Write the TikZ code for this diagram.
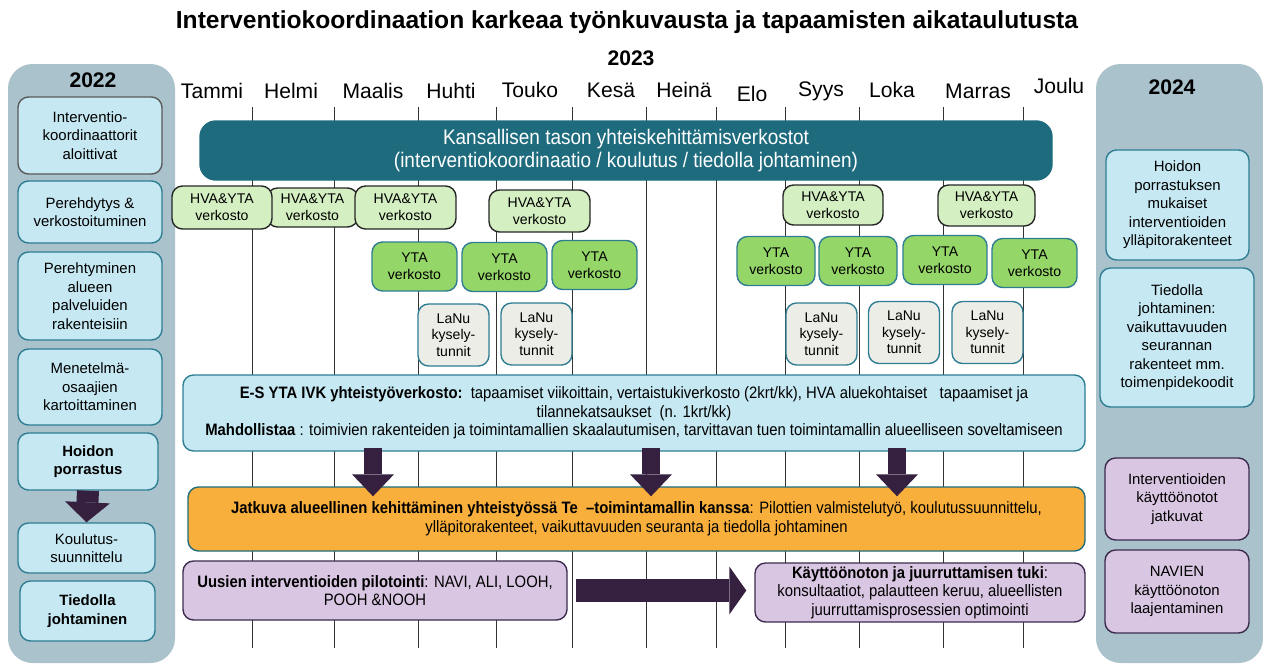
\documentclass[tikz,border=0pt]{standalone}
\usepackage{fontspec}
\setmainfont{Liberation Sans}
\newfontfamily\narrowfont{Liberation Sans}[FakeStretch=0.9]
\usepackage{tikz}
\usetikzlibrary{
  arrows.meta,%
  positioning%
}
\definecolor{panelgray}{HTML}{A9C2CC}
\definecolor{lightblue}{HTML}{C5E8F2}
\definecolor{boxteal}{HTML}{2E7D92}
\definecolor{darkteal}{HTML}{1E6B7E}
\definecolor{hvagreen}{HTML}{D4EFC2}
\definecolor{ytagreen}{HTML}{95D668}
\definecolor{lanugray}{HTML}{EDEDE8}
\definecolor{devorange}{HTML}{F9AF3B}
\definecolor{pilpurple}{HTML}{D9C6E2}
\definecolor{pilborder}{HTML}{3D2B4F}
\definecolor{arrowpurple}{HTML}{35203F}
\tikzset{>=latex}
\tikzset{
  sz/.style 2 args={minimum width=#1*0.02cm, minimum height=#2*0.02cm},
  panel/.style={fill=panelgray, draw=none, rounded corners=14pt},
  monthline/.style={draw=black!80, line width=0.5pt},
  month/.style={font=\fontsize{12}{14}\selectfont},
  year/.style={font=\bfseries\fontsize{12}{14}\selectfont},
  basebox/.style={rounded corners=6pt, line width=0.8pt, align=center,
    inner sep=0pt},
  sidebox/.style={basebox, draw=boxteal, fill=lightblue,
    font=\fontsize{8.5}{10.5}\selectfont},
  hvabox/.style={basebox, draw=black!85, fill=hvagreen,
    font=\fontsize{8}{9.5}\selectfont},
  ytabox/.style={basebox, draw=boxteal, fill=ytagreen,
    font=\fontsize{8}{9.5}\selectfont},
  lanubox/.style={basebox, draw=boxteal, fill=lanugray,
    font=\fontsize{8}{9.5}\selectfont},
  widebox/.style={basebox, font=\narrowfont\fontsize{9.4}{10.6}\selectfont},
  pilbox/.style={widebox, draw=pilborder, fill=pilpurple},
  fatarrow/.style={draw=arrowpurple, line width=0.36cm,
    -{Triangle[width=0.84cm, length=0.44cm, line width=0pt]}},
}
\begin{document}
\begin{tikzpicture}[x=0.02cm, y=-0.02cm]
  \useasboundingbox (0,0) rectangle (1263,666);%
  % year panels
  \fill[panel] (8,64) rectangle (175,663);%
  \fill[panel] (1096,64) rectangle (1263,663);%
  \node[font=\bfseries\fontsize{14}{16}\selectfont] (title) at (627,22)
    {Interventiokoordinaation karkeaa työnkuvausta ja tapaamisten aikataulutusta};%
  \node[year] (y2023) at (631,58) {2023};%
  \node[year] (y2022) at (93,80) {2022};%
  \node[year] (y2024) at (1172,87) {2024};%
  % months
  \foreach \m/\x/\y in {Tammi/212/91, Helmi/291/91, Maalis/373/91,
      Huhti/451/91, Touko/530/90, Kesä/611/90, Heinä/684/90, Elo/752/94,
      Syys/821/91, Loka/892/90, Marras/978/91, Joulu/1059/86}
    \node[month] (m-\m) at (\x,\y) {\m};%
  \foreach \x in {252,334,418,496,572,646,716,785,859,943,1023}
    \draw[monthline] (\x,107) -- (\x,648);%
  % 2022
  \node[sidebox, draw=black!65, sz={144}{77}] (ic) at (90,135.5)
    {Interventio-\\koordinaattorit\\aloittivat};%
  \node[sidebox, sz={144}{62}] (per) at (90,212) {Perehdytys \&\\verkostoituminen};%
  \node[sidebox, sz={144}{88}] (perh) at (90,296)
    {Perehtyminen\\alueen\\palveluiden\\rakenteisiin};%
  \node[sidebox, sz={144}{76}] (men) at (90,387) {Menetelmä-\\osaajien\\kartoittaminen};%
  \node[sidebox, sz={140}{57}, font=\bfseries\fontsize{8.5}{10.5}\selectfont] (hp)
    at (88,461.5) {Hoidon\\porrastus};%
  \node[sidebox, sz={137}{50}] (kou) at (86.5,548) {Koulutus-\\suunnittelu};%
  \node[sidebox, sz={135}{60}, font=\bfseries\fontsize{8.5}{10.5}\selectfont] (tj)
    at (87.5,611) {Tiedolla\\johtaminen};%
  \draw[arrowpurple, line width=0.44cm,
    -{Triangle[width=0.9cm, length=0.4cm, line width=0pt]}] (hp.south) -- (kou.north);%
  % 2024
  \node[sidebox, sz={143}{110}] (r1) at (1177.5,205)
    {Hoidon\\porrastuksen\\mukaiset\\interventioiden\\ylläpitorakenteet};%
  \node[sidebox, sz={154}{139}] (r2) at (1177,337.5)
    {Tiedolla\\johtaminen:\\vaikuttavuuden\\seurannan\\rakenteet mm.\\toimenpidekoodit};%
  \node[sidebox, draw=pilborder, fill=pilpurple, sz={144}{82}] (r3) at (1177,499)
    {Interventioiden\\käyttöönotot\\jatkuvat};%
  \node[sidebox, draw=pilborder, fill=pilpurple, sz={144}{83}] (r4) at (1177,591.5)
    {NAVIEN\\käyttöönoton\\laajentaminen};%
  % 2023
  \node[basebox, draw=darkteal, fill=darkteal, text=white, rounded corners=9pt,
    sz={852}{59}, font=\narrowfont\fontsize{12}{13}\selectfont] (nat) at (626,150.5)
    {Kansallisen tason yhteiskehittämisverkostot\\(interventiokoordinaatio / koulutus / tiedolla johtaminen)};%
  \node[hvabox, sz={91}{39}] (h2) at (312.5,207.5) {HVA\&YTA\\verkosto};%
  \node[hvabox, sz={100}{43}] (h1) at (222,207.5) {HVA\&YTA\\verkosto};%
  \node[hvabox, sz={101}{43}] (h3) at (405.5,207.5) {HVA\&YTA\\verkosto};%
  \node[hvabox, sz={101}{42}] (h4) at (539.5,211) {HVA\&YTA\\verkosto};%
  \node[hvabox, sz={100}{40}] (h5) at (833,205) {HVA\&YTA\\verkosto};%
  \node[hvabox, sz={97}{41}] (h6) at (986.5,205.5) {HVA\&YTA\\verkosto};%
  \foreach \n/\x/\y/\w in {1/414.5/266.5/85, 2/504.5/267/85, 3/594.5/265/85,
      4/776/261/78, 5/858/261/78, 6/945/260/84, 7/1034.5/263/85}
    \node[ytabox, sz={\w}{49}] (y\n) at (\x,\y) {YTA\\verkosto};%
  \foreach \n/\x/\y in {1/453.5/335, 2/536.5/334, 3/821.5/334, 4/904/332.5, 5/987.5/332.5}
    \node[lanubox, sz={71}{62}] (l\n) at (\x,\y) {LaNu\\kysely-\\tunnit};%
  \node[widebox, draw=boxteal, fill=lightblue, sz={902}{76}] (ivk) at (634,413)
    {\textbf{E-S YTA IVK yhteistyöverkosto:}\ \ tapaamiset viikoittain, vertaistukiverkosto (2krt/kk), HVA aluekohtaiset\ \ \ tapaamiset ja\\
     tilannekatsaukset\ \ (n. 1krt/kk)\\
     \textbf{Mahdollistaa} : toimivien rakenteiden ja toimintamallien skaalautumisen, tarvittavan tuen toimintamallin alueelliseen soveltamiseen};%
  \node[widebox, draw=darkteal, fill=devorange, sz={897}{64}] (dev) at (636.5,519)
    {\textbf{Jatkuva alueellinen kehittäminen yhteistyössä Te\ \ –toimintamallin kanssa}: Pilottien valmistelutyö, koulutussuunnittelu,\\
     ylläpitorakenteet, vaikuttavuuden seuranta ja tiedolla johtaminen};%
  \node[pilbox, sz={384}{59}] (pil) at (375,590.5)
    {\textbf{Uusien interventioiden pilotointi}: NAVI, ALI, LOOH,\\POOH \&NOOH};%
  \node[pilbox, sz={330}{59}] (kay) at (920,592.5)
    {\textbf{Käyttöönoton ja juurruttamisen tuki}:\\konsultaatiot, palautteen keruu, alueellisten\\juurruttamisprosessien optimointi};%
  % arrows
  \coordinate (c1) at (373,0);%
  \coordinate (c2) at (651,0);%
  \coordinate (c3) at (897,0);%
  \foreach \c in {c1,c2,c3}
    \draw[fatarrow, shorten <=-0.08cm, shorten >=-0.2cm] (ivk.south -| \c) -- (dev.north -| \c);%
  \draw[arrowpurple, line width=0.46cm,
    -{Triangle[width=0.96cm, length=0.34cm, line width=0pt]},
    shorten <=0.16cm, shorten >=0.16cm] (pil.east) -- (kay.west |- pil.east);%
\end{tikzpicture}
\end{document}
